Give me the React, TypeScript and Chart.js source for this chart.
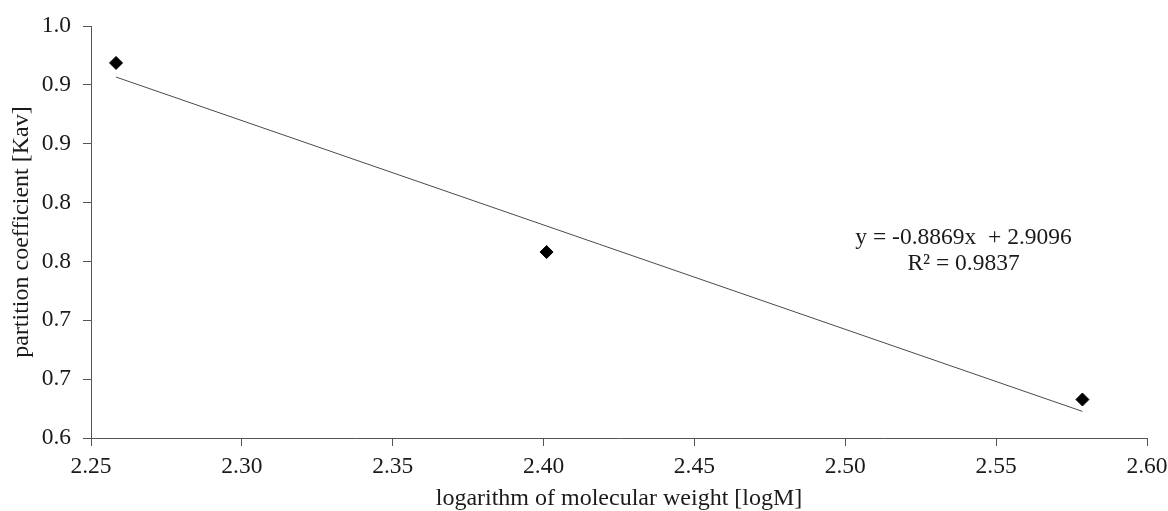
import React, { useEffect, useRef } from 'react';
import { Chart, registerables } from 'chart.js';

Chart.register(...registerables);

// Measured data points (logM, Kav)
const logM = [2.2583, 2.401, 2.5786];
const kav = [0.9187, 0.758, 0.6327];

// Trendline endpoints
const trendX = [2.2583, 2.5786];
const trendY = [0.9067, 0.6226];

// Axis ticks
const xTickLabels = ['2.25', '2.30', '2.35', '2.40', '2.45', '2.50', '2.55', '2.60'];
const yTickLabels = ['0.6', '0.7', '0.7', '0.8', '0.8', '0.9', '0.9', '1.0'];

// Equation annotation
const annotationLines = ['y = -0.8869x  + 2.9096', 'R\u00B2 = 0.9837'];
const annotationAnchor = [2.5392, 0.7699];

const FONT = "'Liberation Serif', 'Times New Roman', serif";
const TEXT_COLOR = '#1a1a1a';
const AXIS_COLOR = '#555555';

const annotationPlugin = {
  id: 'eqAnnotation',
  afterDatasetsDraw(chart: any) {
    const { ctx, scales } = chart;
    const x = scales.x.getPixelForValue(annotationAnchor[0]);
    const y = scales.y.getPixelForValue(annotationAnchor[1]);
    ctx.save();
    ctx.font = `23.5px ${FONT}`;
    ctx.fillStyle = TEXT_COLOR;
    ctx.textAlign = 'center';
    ctx.textBaseline = 'middle';
    annotationLines.forEach((t, i) => ctx.fillText(t, x, y + i * 26));
    ctx.restore();
  },
};

export default function App() {
  const ref = useRef<HTMLCanvasElement>(null);
  useEffect(() => {
    document.body.style.margin = '0';
    const chart = new Chart(ref.current as HTMLCanvasElement, {
      type: 'scatter',
      data: {
        datasets: [
          {
            label: 'Kav',
            data: logM.map((v, i) => ({ x: v, y: kav[i] })),
            pointStyle: 'rectRot',
            pointRadius: 6.5,
            pointBackgroundColor: '#000',
            pointBorderColor: '#000',
            borderWidth: 1,
            showLine: false,
          },
          {
            label: 'trend',
            data: trendX.map((v, i) => ({ x: v, y: trendY[i] })),
            showLine: true,
            borderColor: '#4a4a4a',
            borderWidth: 1,
            pointRadius: 0,
          } as any,
        ],
      },
      options: {
        animation: false,
        responsive: false,
        devicePixelRatio: 1,
        layout: { padding: { top: 24, right: 21, left: 0, bottom: 0 } },
        plugins: { legend: { display: false }, tooltip: { enabled: false } },
        scales: {
          x: {
            type: 'linear',
            min: 2.25,
            max: 2.6,
            afterFit: (s: any) => { s.height = 73; s.paddingRight = 0; s.paddingLeft = 0; },
            afterBuildTicks: (s: any) => {
              s.ticks = xTickLabels.map((t) => ({ value: parseFloat(t) }));
            },
            ticks: {
              callback: (_v: any, i: number) => xTickLabels[i],
              color: TEXT_COLOR,
              font: { family: FONT, size: 23.5 },
              padding: 7,
              maxRotation: 0,
              autoSkip: false,
            },
            grid: { drawOnChartArea: false, drawTicks: true, tickLength: 8, color: AXIS_COLOR },
            border: { color: AXIS_COLOR, width: 1 },
            title: {
              display: true,
              text: 'logarithm of molecular weight [logM]',
              color: TEXT_COLOR,
              font: { family: FONT, size: 24, lineHeight: 1.0 },
              padding: 0,
            },
          },
          y: {
            type: 'linear',
            min: 0.6,
            max: 0.95,
            afterFit: (s: any) => { s.width = 91; },
            afterBuildTicks: (s: any) => {
              s.ticks = yTickLabels.map((_t, i) => ({ value: 0.6 + i * 0.05 }));
            },
            ticks: {
              callback: (_v: any, i: number) => yTickLabels[i],
              color: TEXT_COLOR,
              font: { family: FONT, size: 23.5 },
              padding: 12,
              autoSkip: false,
            },
            grid: { drawOnChartArea: false, drawTicks: true, tickLength: 8, color: AXIS_COLOR },
            border: { color: AXIS_COLOR, width: 1 },
            title: {
              display: true,
              text: 'partition coefficient [Kav]',
              color: TEXT_COLOR,
              font: { family: FONT, size: 24, lineHeight: 1.2 },
              padding: { top: 7, bottom: 0 },
            },
          },
        },
      },
      plugins: [annotationPlugin],
    } as any);
    return () => chart.destroy();
  }, []);
  return (
    <div style={{ position: 'absolute', left: 0, top: 0, width: 1168, height: 511, background: '#fff' }}>
      <canvas ref={ref} width={1168} height={511} />
    </div>
  );
}
